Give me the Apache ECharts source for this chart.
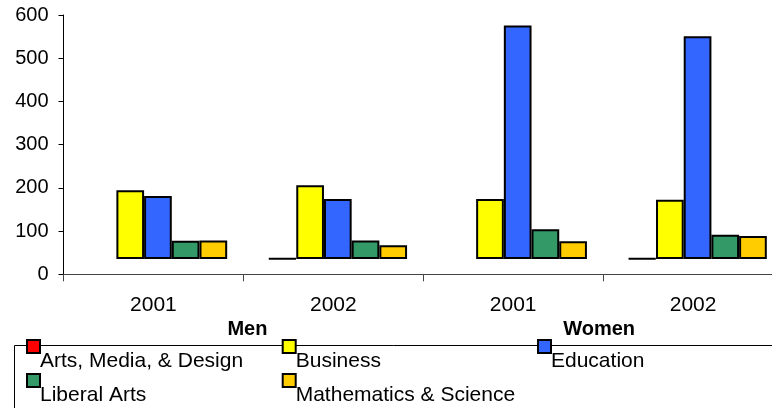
<!DOCTYPE html>
<html>
<head>
<meta charset="utf-8">
<title>Graduates by field</title>
<script src="https://cdn.jsdelivr.net/npm/echarts@6/dist/echarts.min.js"></script>
<style>
  html, body { margin: 0; padding: 0; background: #fff; }
  #chart { width: 772px; height: 408px; }
</style>
</head>
<body>
<div id="chart"></div>
<script>
// Category levels along the bottom axis
const groups = ['Men', 'Women'];
const years = ['2001', '2002'];
const categories = ['Men 2001', 'Men 2002', 'Women 2001', 'Women 2002'];

// Value axis ticks
const yTicks = [0, 100, 200, 300, 400, 500, 600];

// Series names and values (one per category, '-' = no bar)
const seriesNames = ['Arts, Media, & Design', 'Business', 'Education', 'Liberal Arts', 'Mathematics & Science'];
const arts      = ['-', 1, '-', 1];
const business  = [159, 171, 139, 137];
const education = [146, 139, 541, 516];
const liberal   = [42, 43, 69, 56];
const maths     = [43, 32, 41, 53];
const seriesValues = [arts, business, education, liberal, maths];
const seriesColors = ['#FF0000', '#FFFF00', '#3366FF', '#339966', '#FFCC00'];

const FONT = "'Liberation Sans', Arial, sans-serif";

const chart = echarts.init(document.getElementById('chart'), null, { renderer: 'canvas' });

// Front grid carries the visible axes; the bar grid sits slightly up and to the right
// (the depth offset of the column faces) with the same scale.
const option = {
  animation: false,
  backgroundColor: '#ffffff',
  textStyle: { fontFamily: FONT },
  grid: [
    { left: 63.5, right: -11, top: 15, bottom: 133.7, containLabel: false, outerBoundsMode: 'none' },
    { left: 68, right: -15.5, top: 0, bottom: 149, containLabel: false, outerBoundsMode: 'none' }
  ],
  xAxis: [
    {
      type: 'category',
      gridIndex: 0,
      data: categories,
      boundaryGap: true,
      axisLine: { show: true, lineStyle: { color: '#444', width: 1 } },
      axisTick: { show: true, interval: 0, length: 7, lineStyle: { color: '#444', width: 1 } },
      axisLabel: {
        interval: 0,
        margin: 20,
        fontSize: 21,
        color: '#000',
        fontFamily: FONT,
        formatter: (v, i) => years[i % years.length]
      },
      splitLine: { show: false }
    },
    {
      type: 'category',
      gridIndex: 0,
      position: 'bottom',
      data: groups,
      axisLine: { show: false },
      axisTick: { show: false },
      axisLabel: {
        interval: 0,
        margin: 45,
        color: '#000',
        formatter: v => (v === groups[0] ? '{m|' + v + '}' : '{w|' + v + '}'),
        rich: {
          m: { fontSize: 20, fontWeight: 'bold', fontFamily: FONT, color: '#000', padding: [0, 0, 0, 8] },
          w: { fontSize: 20, fontWeight: 'bold', fontFamily: FONT, color: '#000', padding: [0, 8, 0, 0] }
        }
      },
      splitLine: { show: false }
    },
    {
      type: 'category',
      gridIndex: 1,
      data: categories,
      show: false
    }
  ],
  yAxis: [
    {
      type: 'value',
      gridIndex: 0,
      min: yTicks[0],
      max: yTicks[yTicks.length - 1],
      interval: yTicks[1] - yTicks[0],
      axisLine: { show: true, lineStyle: { color: '#000', width: 1 } },
      axisTick: { show: true, length: 5, lineStyle: { color: '#000', width: 1 } },
      axisLabel: { margin: 15, fontSize: 20, color: '#000', fontFamily: FONT },
      splitLine: { show: false }
    },
    {
      type: 'value',
      gridIndex: 1,
      min: yTicks[0],
      max: yTicks[yTicks.length - 1],
      show: false,
      splitLine: { show: false }
    }
  ],
  graphic: [
    {
      type: 'rect',
      shape: { x: 14.5, y: 345.5, width: 800, height: 100 },
      style: { fill: 'none', stroke: '#000', lineWidth: 1 },
      z: 1
    }
  ],
  legend: [
    [seriesNames[0], seriesNames[3], 26],
    [seriesNames[1], seriesNames[4], 281.7],
    [seriesNames[2], null, 537]
  ].map(([a, b, left]) => ({
    data: b ? [a, b] : [a],
    orient: 'vertical',
    left: left,
    top: 321,
    padding: 0,
    itemGap: -17,
    itemWidth: 13,
    itemHeight: 13,
    icon: 'rect',
    selectedMode: false,
    itemStyle: { borderColor: '#000', borderWidth: 2 },
    formatter: name => '{t|' + name + '}',
    textStyle: {
      fontSize: 21, color: '#000', fontFamily: FONT,
      rich: { t: { fontSize: 21, color: '#000', fontFamily: FONT, lineHeight: 21, padding: [30, 0, 0, -5] } }
    }
  })),
  series: seriesNames.map((name, k) => ({
    name: name,
    type: 'bar',
    xAxisIndex: 2,
    yAxisIndex: 1,
    data: seriesValues[k],
    barWidth: 27.7,
    barGap: '0%',
    itemStyle: { color: seriesColors[k], borderColor: '#000', borderWidth: 2 },
    emphasis: { disabled: true }
  }))
};

chart.setOption(option);
</script>
</body>
</html>
